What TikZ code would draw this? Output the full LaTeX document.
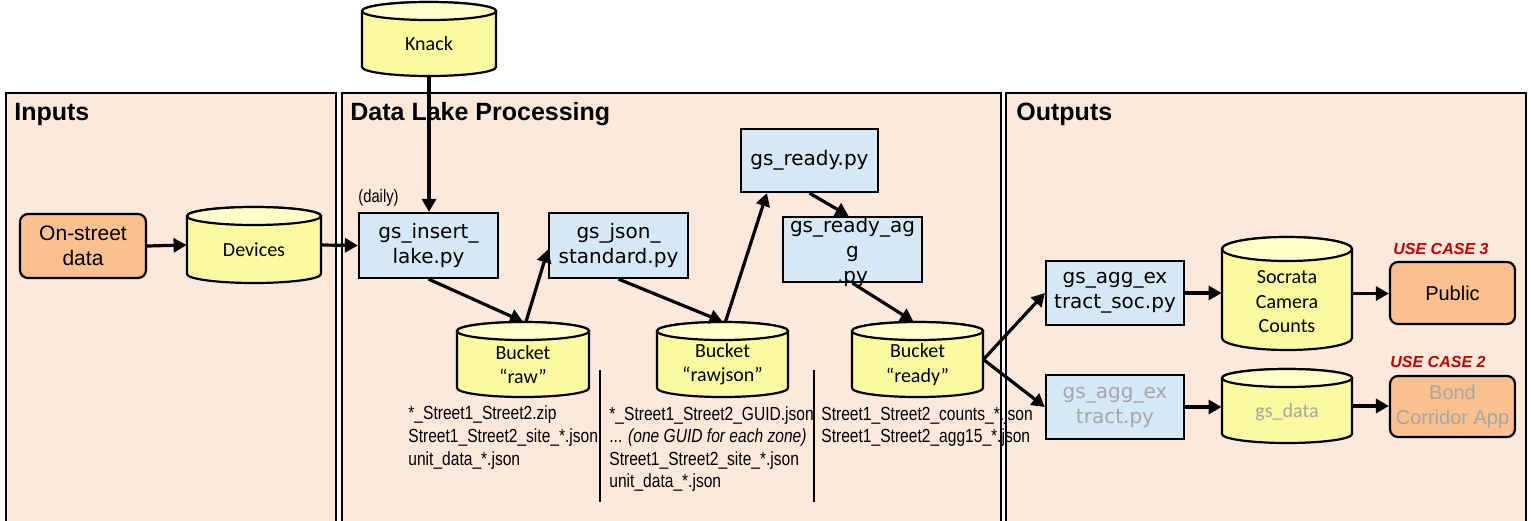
\documentclass[tikz,border=0pt]{standalone}
\usepackage{fontspec}
\setmainfont{Liberation Sans}
\newfontfamily\verd{DejaVu Sans}
\newfontfamily\cali{Carlito}
\newfontfamily\narrow{Liberation Sans}[FakeStretch=0.82]
\usetikzlibrary{arrows.meta,calc}
\definecolor{panelfill}{HTML}{FDE9DB}
\definecolor{orangefill}{HTML}{FAC090}
\definecolor{bluefill}{HTML}{D5E8F6}
\definecolor{yellowfill}{HTML}{FAFA9E}
\definecolor{yellowtop}{HTML}{FFFFC8}
\definecolor{redtxt}{HTML}{C00000}
\definecolor{graytxt}{HTML}{A6A6A6}
\newcommand\cylshape[6]{% name, cx, cy, w, h, ry
  \path[cylbody] ({#2-#4/2},{#3-#5/2+#6}) -- ({#2-#4/2},{#3+#5/2-#6})
    arc[start angle=180,end angle=0,x radius=#4/2,y radius=#6]
    -- ({#2+#4/2},{#3-#5/2+#6})
    arc[start angle=0,end angle=-180,x radius=#4/2,y radius=#6] -- cycle;
  \path[cyltop] (#2,{#3-#5/2+#6}) ellipse[x radius=#4/2,y radius=#6];
  \node[cylanchor, minimum width=#4*0.5pt, minimum height=#5*0.5pt] (#1) at (#2,#3) {};
}
\begin{document}
\begin{tikzpicture}[x=0.5pt,y=-0.5pt,
  panel/.style={draw=black, line width=0.9pt, fill=panelfill},
  heading/.style={anchor=west, inner sep=0pt, font=\bfseries\fontsize{12.5}{14}\selectfont},
  pybox/.style={draw=black, line width=1.1pt, fill=bluefill, inner sep=0pt, align=center,
    font=\verd\fontsize{10}{12.5}\selectfont},
  pytext/.style={inner sep=0pt, align=center, font=\verd\fontsize{10}{12.5}\selectfont},
  orbox/.style={draw=black, line width=1.1pt, fill=orangefill, rounded corners=4pt, inner sep=0pt,
    align=center, font=\fontsize{10.5}{12.5}\selectfont},
  cylbody/.style={draw=black, line width=1.1pt, fill=yellowfill},
  cyltop/.style={draw=black, line width=1.1pt, fill=yellowtop},
  cylanchor/.style={inner sep=0pt, draw=none},
  cyltext/.style={inner sep=0pt, align=center, font=\cali\fontsize{10}{12.25}\selectfont},
  listtext/.style={inner sep=0pt, align=left, anchor=west, font=\narrow\fontsize{9.5}{11.3}\selectfont},
  usecase/.style={inner sep=0pt, anchor=west, text=redtxt, font=\bfseries\itshape\fontsize{8}{10}\selectfont},
  arr/.style={line width=1.6pt, -{Triangle[length=6.5pt,width=7pt]}},
  sepline/.style={line width=1.1pt},
  grayed/.style={text=graytxt}
]
\useasboundingbox (0,0) rectangle (1531,520);
\fill[white] (0,0) rectangle (1531,520);

% panels
\draw[panel] (6,93) rectangle (336,540);
\draw[panel] (342,93) rectangle (1001,540);
\draw[panel] (1006,93) rectangle (1526,540);
\node[heading] (hin) at (14,114) {Inputs};
\node[heading] (hdl) at (350,114) {Data Lake Processing};
\node[heading] (hout) at (1016,114) {Outputs};

% inputs
\node[orbox, minimum width=63pt, minimum height=32pt] (onstreet) at (83,246) {On-street\\data};
\cylshape{devices}{254}{245}{134}{76}{9}
\node[cyltext] (devicesT) at (254,250) {Devices};
\cylshape{knack}{429}{39}{134}{74}{9}
\node[cyltext] (knackT) at (429,44) {Knack};

% data lake
\node[inner sep=0pt, anchor=west, font=\narrow\fontsize{9}{11}\selectfont] (daily) at (358,198) {(daily)};
\node[pybox, minimum width=69.5pt, minimum height=32.5pt] (ins) at (428.5,245.5) {gs\_insert\_\\lake.py};
\node[pybox, minimum width=69.5pt, minimum height=32.5pt] (json) at (618.5,245.5) {gs\_json\_\\standard.py};
\node[pybox, minimum width=68.5pt, minimum height=31.5pt] (gsready) at (809.5,160.5) {gs\_ready.py};
\node[pybox, minimum width=69.5pt, minimum height=32.5pt] (agg) at (852.5,249.5) {};
\node[pytext] (aggT) at (852.5,251.5) {gs\_ready\_ag\\g\\.py};

\cylshape{raw}{523}{359.5}{132}{75}{9}
\node[cyltext] (rawT) at (523,364.5) {Bucket\\“raw”};
\cylshape{rawjson}{722.5}{359.5}{131}{75}{9}
\node[cyltext] (rawjsonT) at (722.5,364.5) {Bucket\\“rawjson”};
\cylshape{bready}{917.5}{359.5}{131}{75}{9}
\node[cyltext] (breadyT) at (917.5,364.5) {Bucket\\“ready”};

\node[listtext] (rawlist) at (408,437.5) {*\_Street1\_Street2.zip\\Street1\_Street2\_site\_*.json\\unit\_data\_*.json};
\node[listtext] (rawjsonlist) at (609,449) {*\_Street1\_Street2\_GUID.json\\... \textit{(one GUID for each zone)}\\Street1\_Street2\_site\_*.json\\unit\_data\_*.json};
\node[listtext] (readylist) at (821,426.5) {Street1\_Street2\_counts\_*.json\\Street1\_Street2\_agg15\_*.json};
\draw[sepline] (600,370) -- (600,502);
\draw[sepline] (814,370) -- (814,502);

% outputs
\node[pybox, minimum width=69pt, minimum height=32pt] (soc) at (1115,293) {gs\_agg\_ex\\tract\_soc.py};
\node[pybox, grayed, minimum width=69pt, minimum height=32pt] (ex) at (1115,407) {gs\_agg\_ex\\tract.py};
\cylshape{socrata}{1287}{293.5}{130}{113}{12}
\node[cyltext] (socrataT) at (1287,302) {Socrata\\Camera\\Counts};
\cylshape{gsdata}{1287}{406}{130}{74}{9}
\node[cyltext, grayed] (gsdataT) at (1287,412) {gs\_data};
\node[orbox, minimum width=62.5pt, minimum height=31pt, font=\fontsize{10}{12.5}\selectfont] (public) at (1452.5,293) {Public};
\node[orbox, grayed, minimum width=62.5pt, minimum height=30.5pt, font=\fontsize{10}{12.5}\selectfont] (bond) at (1452.5,406.5) {Bond\\Corridor App};
\node[usecase] (uc3) at (1393,249) {USE CASE 3};
\node[usecase] (uc2) at (1390,362) {USE CASE 2};

% connectors
\draw[arr] (onstreet.east) -- (devices.west);
\draw[arr] (devices.east) -- (ins.west);
\draw[arr] (knack.south) -- (knack.south |- ins.north);
\draw[arr] (ins.south) -- (raw.north);
\draw[arr] ($(raw.north)+(3,0)$) -- ($(json.west)+(0,4)$);
\draw[arr] (json.south) -- (rawjson.north);
\draw[arr] ($(rawjson.north)+(3,0)$) -- ($(gsready.south west)+(27,0)$);
\draw[arr] (gsready.south) -- ($(agg.north)+(-4,0)$);
\draw[arr] (agg.south) -- ($(bready.north)+(-4,0)$);
\draw[arr] (bready.east) -- (soc.west);
\draw[arr] (bready.east) -- (ex.west);
\draw[arr] (soc.east) -- (soc.east -| socrata.west);
\draw[arr] (socrata.east) -- (socrata.east -| public.west);
\draw[arr] (ex.east) -- (ex.east -| gsdata.west);
\draw[arr] (gsdata.east) -- (gsdata.east -| bond.west);
\end{tikzpicture}
\end{document}
